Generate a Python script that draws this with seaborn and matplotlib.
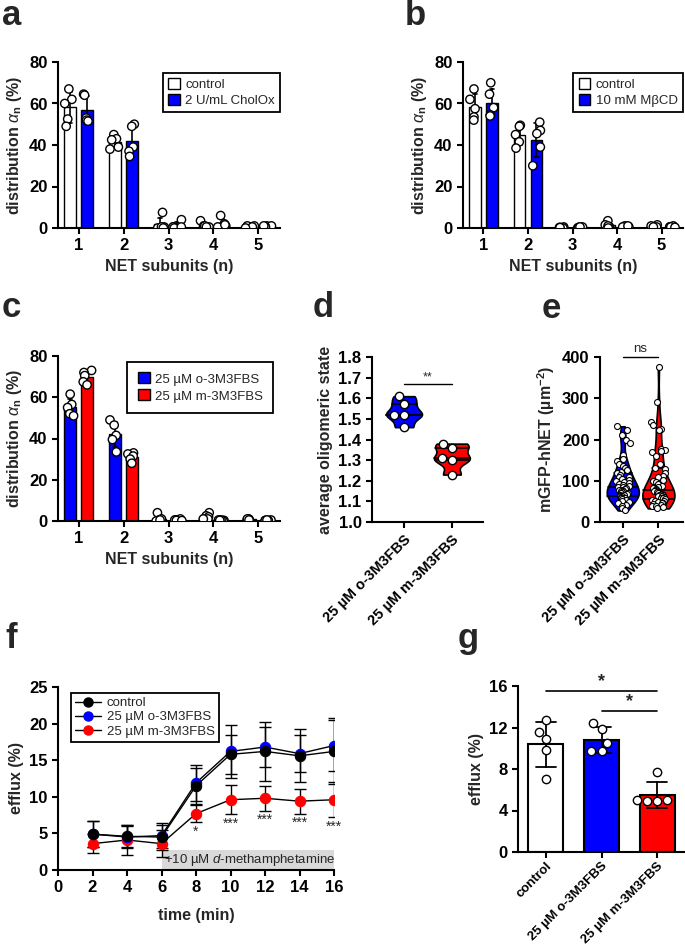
import numpy as np
import pandas as pd
import matplotlib
matplotlib.use('Agg')
import matplotlib.pyplot as plt
import seaborn as sns
from matplotlib.patches import Patch, Rectangle
from matplotlib.lines import Line2D

# ---------------- data ----------------
SUBUNITS = [1, 2, 3, 4, 5]
# 5 measurements per subunit and condition
A_CONTROL = [[67, 62, 60, 52.5, 49], [45, 43, 42.5, 39, 38], [7.5, 0.5, 0, 0.5, 0],
             [3.5, 1, 0.5, 1, 0.5], [1, 0.5, 1, 0.5, 0]]
A_CHOLOX = [[64.5, 64, 53, 52, 51.5], [50, 49, 39, 37, 34.5], [4, 0.5, 0.5, 0, 0.5],
            [6, 2, 1, 0.5, 1.5], [1, 1, 0.5, 0.5, 1]]
B_CONTROL = [[67, 62, 57.5, 53.5, 52], [49.5, 49, 45, 41.5, 38.5], [0.5, 0, 0, 0.3, 0.2],
             [3.5, 1.5, 0.5, 1, 0], [1.5, 0.5, 0.5, 1, 0.5]]
B_MBCD = [[70, 64.5, 58, 54.5, 54], [51, 47, 45.5, 39, 30], [0.5, 0.3, 0, 0.2, 0.5],
          [1, 0.5, 0.5, 0.5, 1], [0.5, 0.5, 1, 0.5, 0.3]]
C_ORTHO = [[61.5, 56.5, 55, 52, 51], [49, 46.5, 41.5, 39.5, 33.5], [4, 1, 0.5, 0, 0.5],
           [4, 2.5, 2, 1, 1], [1, 0.8, 0.5, 1, 0.5]]
C_META = [[73, 72, 70.5, 67.5, 66], [33, 32.5, 31.5, 30, 28], [1, 0.5, 0.5, 0.3, 0.2],
          [0.5, 0.3, 0.2, 0.5, 0.3], [0.5, 0.3, 0.3, 0.2, 0.5]]

ORTHO = '25 µM o-3M3FBS'
META = '25 µM m-3M3FBS'

D_ORTHO = [1.61, 1.57, 1.52, 1.52, 1.46]
D_META = [1.38, 1.36, 1.31, 1.30, 1.23]

E_ORTHO = [232, 222, 212, 200, 192, 162, 152, 148, 140, 135, 130, 125, 122, 118, 115,
           110, 108, 105, 102, 100, 98, 95, 92, 90, 88, 86, 84, 82, 80, 78, 77, 75, 74,
           72, 70, 70, 68, 66, 65, 63, 62, 60, 58, 57, 55, 53, 50, 48, 45, 42, 38, 35, 28]
E_META = [375, 290, 242, 235, 225, 222, 178, 175, 172, 170, 160, 140, 132, 128, 120, 112,
          108, 103, 100, 96, 92, 88, 85, 82, 80, 78, 76, 74, 72, 70, 68, 66, 65, 63, 62,
          60, 58, 57, 55, 54, 52, 50, 48, 47, 45, 43, 42, 40, 38, 36, 33]

TIME = [2, 4, 6, 8, 10, 12, 14, 16]
F_CONTROL = [4.9, 4.6, 4.5, 11.5, 15.8, 16.2, 15.6, 16.2]
F_CONTROL_SD = [1.8, 1.5, 1.7, 2.5, 2.7, 4.0, 3.6, 4.5]
F_ORTHO = [4.9, 4.5, 4.7, 11.9, 16.2, 16.8, 15.9, 17.0]
F_ORTHO_SD = [1.8, 1.5, 1.7, 2.5, 3.6, 2.7, 2.5, 3.5]
F_META = [3.6, 4.1, 3.6, 7.7, 9.6, 9.8, 9.4, 9.6]
F_META_SD = [1.3, 2.0, 1.8, 1.2, 2.0, 1.7, 1.7, 2.4]
F_STARS = ['', '', '', '*', '***', '***', '***', '***']

G_GROUPS = ['control', ORTHO, META]
G_VALUES = [[12.7, 11.6, 10.9, 9.8, 7.0],
            [12.4, 11.9, 10.5, 9.7, 9.7],
            [7.7, 5.0, 5.0, 4.9, 4.9]]

BLUE = '#0000ff'
RED = '#ff0000'

# ---------------- style ----------------
sns.set_theme(style='ticks')
plt.rcParams.update({
    'font.family': ['Liberation Sans', 'DejaVu Sans'],
    'font.weight': 'bold',
    'axes.labelweight': 'bold',
    'axes.labelsize': 11.5,
    'axes.linewidth': 1.5,
    'axes.edgecolor': 'black',
    'xtick.color': 'black', 'ytick.color': 'black',
    'xtick.major.width': 1.5, 'ytick.major.width': 1.5,
    'xtick.major.size': 4, 'ytick.major.size': 4,
    'xtick.labelsize': 12, 'ytick.labelsize': 12,
    'mathtext.fontset': 'custom',
    'mathtext.rm': 'Liberation Sans',
    'mathtext.it': 'Liberation Sans:style=italic:weight=normal',
    'mathtext.bf': 'Liberation Sans:bold',
})

W, H = 685, 948
fig = plt.figure(figsize=(W / 100, H / 100), dpi=100)


def add_ax(left, top, right, bottom):
    return fig.add_axes([left / W, 1 - bottom / H, (right - left) / W, (bottom - top) / H])


def letter(x, y, s):
    fig.text(x / W, 1 - y / H, s, fontsize=25, weight='bold', va='baseline')


def small_legend(ax, handles, labels, anchor, pad=0.4, spacing=0.2, loc='upper right'):
    leg = ax.legend(handles, labels, loc=loc, bbox_to_anchor=anchor, frameon=True,
                    fancybox=False, edgecolor='black', framealpha=1,
                    prop={'weight': 'normal', 'size': 9.5}, handlelength=0.9,
                    handleheight=0.9, handletextpad=0.4, borderpad=pad,
                    labelspacing=spacing, borderaxespad=0)
    leg.get_frame().set_linewidth(1.3)
    return leg


def subunit_panel(ax, first, second, names, colors, seed):
    rows = []
    for name, data in zip(names, [first, second]):
        for n, vals in zip(SUBUNITS, data):
            for v in vals:
                rows.append((n, name, v))
    df = pd.DataFrame(rows, columns=['n', 'group', 'value'])
    sns.barplot(df, x='n', y='value', hue='group', hue_order=names, palette=colors,
                saturation=1, errorbar='sd', capsize=0.2, width=0.76, gap=0.3,
                edgecolor='black', linewidth=1,
                err_kws={'color': 'black', 'linewidth': 1.2}, legend=False, ax=ax)
    np.random.seed(seed)
    sns.stripplot(df, x='n', y='value', hue='group', hue_order=names,
                  palette=['white', 'white'], dodge=True, jitter=0.22, size=6,
                  edgecolor='black', linewidth=1, legend=False, ax=ax)
    ax.set_ylim(0, 80)
    ax.set_yticks([0, 20, 40, 60, 80])
    ax.set_xlim(-0.46, 4.48)
    ax.set_xlabel('NET subunits (n)')
    ax.set_ylabel(r'distribution $\alpha_{\mathregular{n}}$ (%)')
    sns.despine(ax=ax)
    handles = [Patch(facecolor=c, edgecolor='black', linewidth=1) for c in colors]
    return handles


# ---------------- panel a ----------------
ax_a = add_ax(58, 62, 280, 228)
h = subunit_panel(ax_a, A_CONTROL, A_CHOLOX, ['control', '2 U/mL CholOx'], ['white', BLUE], 1)
small_legend(ax_a, h, ['control', '2 U/mL CholOx'], (1.0, 0.934))
letter(2, 25, 'a')

# ---------------- panel b ----------------
ax_b = add_ax(463, 62, 683, 228)
h = subunit_panel(ax_b, B_CONTROL, B_MBCD, ['control', '10 mM MβCD'], ['white', BLUE], 2)
small_legend(ax_b, h, ['control', '10 mM MβCD'], (1.0, 0.934))
letter(405, 25, 'b')

# ---------------- panel c ----------------
ax_c = add_ax(58, 356, 280, 521)
h = subunit_panel(ax_c, C_ORTHO, C_META, [ORTHO, META], [BLUE, RED], 3)
small_legend(ax_c, h, [ORTHO, META], (0.97, 0.964), pad=0.8, spacing=0.3)
letter(2, 317, 'c')


def violin_panel(ax, first, second, bw, width, size, jitter=None):
    df = pd.DataFrame({'group': [ORTHO] * len(first) + [META] * len(second),
                       'value': first + second})
    sns.violinplot(df, x='group', y='value', hue='group', palette=[BLUE, RED],
                   saturation=1, cut=0, inner='quart', bw_adjust=bw, width=width,
                   density_norm='width', linewidth=1.2, linecolor='black',
                   legend=False, ax=ax)
    for ln in ax.lines:
        ln.set_linestyle('-')
    if jitter is None:
        sns.swarmplot(df, x='group', y='value', color='white', size=size,
                      edgecolor='black', linewidth=1, ax=ax)
    else:
        np.random.seed(7)
        sns.stripplot(df, x='group', y='value', color='white', size=size, jitter=jitter,
                      edgecolor='black', linewidth=0.8, ax=ax)
    ax.set_xlabel('')
    plt.setp(ax.get_xticklabels(), rotation=45, ha='right', rotation_mode='anchor',
             fontsize=10.5)
    sns.despine(ax=ax)


# ---------------- panel d ----------------
ax_d = add_ax(372, 357, 483, 522)
violin_panel(ax_d, D_ORTHO, D_META, 0.6, 0.75, 6)
ax_d.set_ylim(1.0, 1.8)
ax_d.set_yticks(np.arange(1.0, 1.81, 0.1))
ax_d.set_yticklabels([f'{v:.1f}' for v in np.arange(1.0, 1.81, 0.1)])
ax_d.set_xlim(-0.67, 1.65)
ax_d.set_ylabel('average oligomeric state')
ax_d.plot([0, 1], [1.67, 1.67], color='black', lw=1)
ax_d.text(0.5, 1.672, '**', ha='center', va='bottom', fontsize=9, weight='normal')
letter(313, 317, 'd')

# ---------------- panel e ----------------
ax_e = add_ax(600, 357, 683, 522)
violin_panel(ax_e, E_ORTHO, E_META, 0.8, 0.9, 4.3, jitter=0.2)
ax_e.set_ylim(0, 400)
ax_e.set_yticks([0, 100, 200, 300, 400])
ax_e.set_xlim(-0.64, 1.69)
ax_e.set_ylabel(r'mGFP-hNET (µm$^{\mathregular{-2}}$)')
ax_e.plot([0, 1], [400, 400], color='black', lw=1, clip_on=False)
ax_e.text(0.5, 405, 'ns', ha='center', va='bottom', fontsize=9.5, weight='normal')
letter(542, 318, 'e')

# ---------------- panel f ----------------
ax_f = add_ax(58, 687, 334, 870)
ax_f.add_patch(Rectangle((6, 0), 10, 2.8, facecolor='#d9d9d9', edgecolor='none', zorder=0))
ax_f.text(6.15, 1.3, r'+10 µM $\mathit{d}$-methamphetamine', fontsize=9.5,
          weight='normal', va='center', ha='left', zorder=1)
series = [(META, F_META, F_META_SD, RED), (ORTHO, F_ORTHO, F_ORTHO_SD, BLUE),
          ('control', F_CONTROL, F_CONTROL_SD, 'black')]
for name, mean, sd, c in series:
    ax_f.errorbar(TIME, mean, yerr=sd, fmt='none', ecolor='black', elinewidth=1,
                  capsize=4, capthick=1, zorder=2)
    sns.lineplot(x=TIME, y=mean, color='black', lw=1, marker='o', markersize=7.5,
                 markerfacecolor=c, markeredgecolor=c, ax=ax_f, zorder=3)
for t, m, s, star in zip(TIME, F_META, F_META_SD, F_STARS):
    if star:
        ax_f.text(t, m - s - 0.35, star, ha='center', va='top', fontsize=10,
                  weight='normal')
ax_f.set_xlim(0, 16)
ax_f.set_ylim(0, 25)
ax_f.set_xticks(range(0, 17, 2))
ax_f.set_yticks([0, 5, 10, 15, 20, 25])
ax_f.set_xlabel('time (min)', labelpad=9)
ax_f.set_ylabel('efflux (%)')
sns.despine(ax=ax_f)
f_handles = [Line2D([0], [0], color='black', lw=1, marker='o', markersize=6.5,
                    markerfacecolor=c, markeredgecolor=c) for c in ['black', BLUE, RED]]
leg = ax_f.legend(f_handles, ['control', ORTHO, META], loc='upper left',
                  bbox_to_anchor=(0.047, 0.967), frameon=True, fancybox=False,
                  edgecolor='black', framealpha=1, prop={'weight': 'normal', 'size': 9.5},
                  handlelength=2.0, handletextpad=0.4, borderpad=0.3,
                  labelspacing=0.15, borderaxespad=0)
leg.get_frame().set_linewidth(1.3)
letter(5, 648, 'f')

# ---------------- panel g ----------------
ax_g = add_ax(518, 686, 685, 852)
gdf = pd.DataFrame([(g, v) for g, vals in zip(G_GROUPS, G_VALUES) for v in vals],
                   columns=['group', 'value'])
sns.barplot(gdf, x='group', y='value', hue='group', palette=['white', BLUE, RED],
            saturation=1, errorbar='sd', capsize=0.35, width=0.63, edgecolor='black',
            linewidth=1.5, err_kws={'color': 'black', 'linewidth': 1.3}, legend=False,
            ax=ax_g)
sns.swarmplot(gdf, x='group', y='value', color='white', size=6, edgecolor='black',
              linewidth=1, ax=ax_g)
ax_g.set_ylim(0, 16)
ax_g.set_yticks([0, 4, 8, 12, 16])
ax_g.set_xlim(-0.5, 2.5)
ax_g.set_xlabel('')
ax_g.set_ylabel('efflux (%)')
plt.setp(ax_g.get_xticklabels(), rotation=45, ha='right', rotation_mode='anchor',
         fontsize=9.5)
ax_g.tick_params(axis='x', pad=2)
ax_g.plot([0, 2], [15.5, 15.5], color='black', lw=1.2, clip_on=False)
ax_g.text(1.0, 15.6, '*', ha='center', va='bottom', fontsize=13)
ax_g.plot([1, 2], [13.6, 13.6], color='black', lw=1.2)
ax_g.text(1.5, 13.7, '*', ha='center', va='bottom', fontsize=13)
sns.despine(ax=ax_g)
letter(458, 648, 'g')

fig.savefig('out.png', dpi=100)
